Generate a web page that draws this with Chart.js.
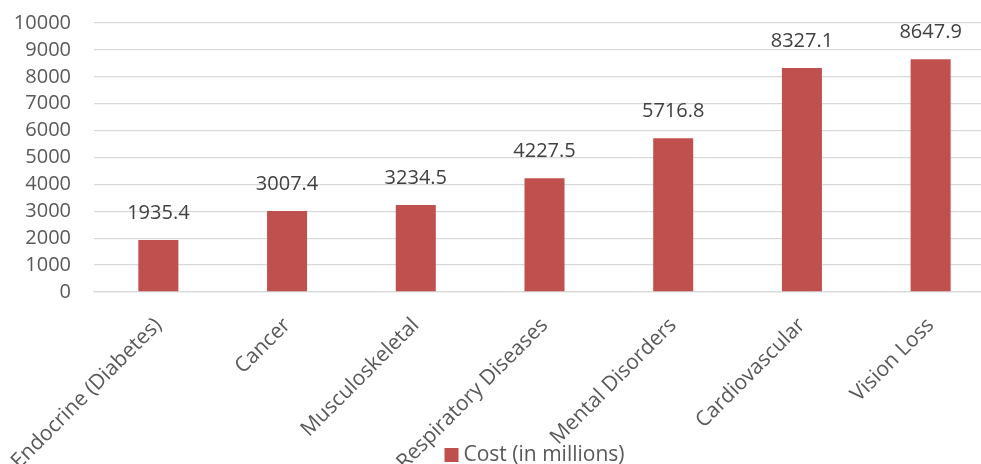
<!DOCTYPE html>
<html>
<head>
<meta charset="utf-8">
<script src="https://cdn.jsdelivr.net/npm/chart.js@4"></script>
<style>
  html, body { margin: 0; padding: 0; background: #fff; overflow: hidden; }
  #wrap { position: relative; width: 995px; height: 464px; }
</style>
</head>
<body>
<div id="wrap"><canvas id="costChart"></canvas></div>
<script>
const categorias = ['Endocrine (Diabetes)', 'Cancer', 'Musculoskeletal', 'Respiratory Diseases',
                    'Mental Disorders', 'Cardiovascular', 'Vision Loss'];
const costos = [1935.4, 3007.4, 3234.5, 4227.5, 5716.8, 8327.1, 8647.9];
const serieNombre = 'Cost (in millions)';

const fuente = "'Open Sans', sans-serif";
const colorBarra = '#C0504D';

// etiquetas de valor encima de cada barra
const etiquetasValor = {
    id: 'etiquetasValor',
    afterDatasetsDraw(chart) {
        const ctx = chart.ctx;
        const meta = chart.getDatasetMeta(0);
        ctx.save();
        ctx.font = '20px ' + fuente;
        ctx.fillStyle = '#404040';
        ctx.textAlign = 'center';
        ctx.textBaseline = 'middle';
        meta.data.forEach((bar, i) => {
            ctx.fillText(costos[i].toFixed(1), bar.x, bar.y - 27);
        });
        ctx.restore();
    }
};

// leyenda abajo, encima de las etiquetas del eje x (como en Excel)
const leyendaAbajo = {
    id: 'leyendaAbajo',
    afterDraw(chart) {
        const ctx = chart.ctx;
        const ds = chart.data.datasets[0];
        const area = chart.chartArea;
        ctx.save();
        ctx.font = '21px ' + fuente;
        const anchoTexto = ctx.measureText(ds.label).width;
        const caja = 14, hueco = 5;
        const total = caja + hueco + anchoTexto;
        const x0 = (area.left + area.right) / 2 - 10 - total / 2;
        const yc = chart.height - 9;
        ctx.fillStyle = ds.backgroundColor;
        ctx.fillRect(x0, yc - caja / 2, caja, caja);
        ctx.fillStyle = '#595959';
        ctx.textAlign = 'left';
        ctx.textBaseline = 'middle';
        ctx.fillText(ds.label, x0 + caja + hueco, yc);
        ctx.restore();
    }
};

const config = {
    type: 'bar',
    data: {
        labels: categorias,
        datasets: [{
            label: serieNombre,
            data: costos,
            backgroundColor: colorBarra,
            borderWidth: 0,
            categoryPercentage: 1,
            barPercentage: 0.311
        }]
    },
    options: {
        responsive: true,
        maintainAspectRatio: false,
        animation: false,
        layout: { padding: { left: 0, right: 0, top: 23, bottom: 0 } },
        scales: {
            x: {
                grid: { display: false, drawTicks: false },
                border: { color: '#d9d9d9', width: 1.3 },
                ticks: {
                    color: '#595959',
                    font: { family: fuente, size: 21 },
                    minRotation: 45,
                    maxRotation: 45,
                    padding: 21,
                    autoSkip: false
                },
                afterFit(scale) {
                    scale.height = 172;
                    scale.paddingLeft = 0;
                    scale.paddingRight = 0;
                }
            },
            y: {
                min: 0,
                max: 10000,
                ticks: {
                    stepSize: 1000,
                    autoSkip: false,
                    color: '#595959',
                    font: { family: fuente, size: 20 },
                    padding: 23,
                    callback: (v) => String(v)
                },
                grid: { color: '#d9d9d9', lineWidth: 1.3, drawTicks: false },
                border: { display: false },
                afterFit(scale) {
                    scale.width = 94;
                    scale.paddingTop = 0;
                    scale.paddingBottom = 0;
                }
            }
        },
        plugins: {
            legend: { display: false },
            tooltip: { enabled: false }
        }
    },
    plugins: [etiquetasValor, leyendaAbajo]
};

new Chart(document.getElementById('costChart').getContext('2d'), config);
</script>
</body>
</html>
